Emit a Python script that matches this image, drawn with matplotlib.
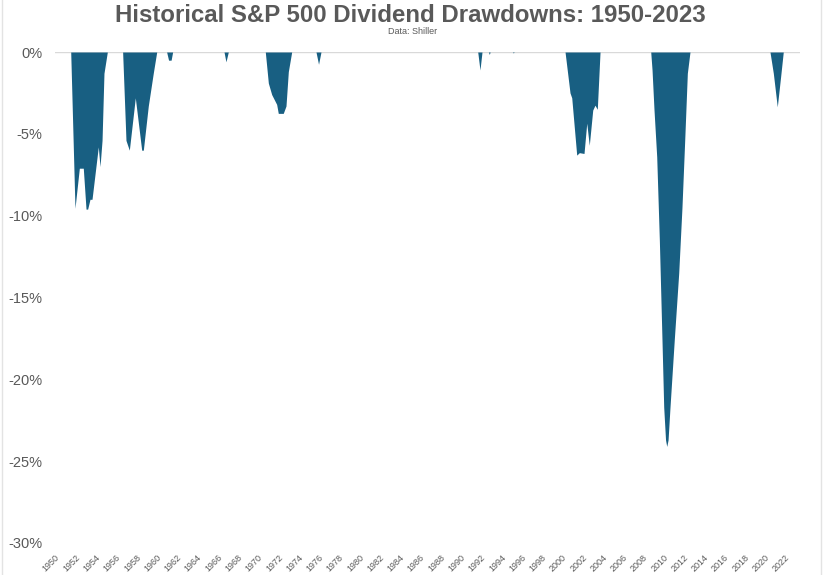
import matplotlib.pyplot as plt
from matplotlib.lines import Line2D
import numpy as np

# Shiller S&P 500 dividend drawdowns (%)
years = [
    1950.00, 1951.55, 1951.97, 1952.40, 1952.79, 1953.06, 1953.22, 1953.45,
    1953.65, 1954.27, 1954.44, 1954.64, 1954.83, 1955.16,
    1956.67, 1957.00, 1957.33, 1957.92, 1958.55, 1958.71, 1959.20, 1959.69, 1960.03,
    1961.01, 1961.20, 1961.45, 1961.60,
    1966.67, 1966.86, 1967.09,
    1970.74, 1971.04, 1971.37, 1971.86, 1972.02, 1972.51, 1972.78, 1973.01, 1973.34,
    1975.74, 1975.99, 1976.23,
    1991.69, 1991.91, 1992.11,
    1992.75, 1992.83, 1992.91,
    1995.12, 1995.20, 1995.28,
    2000.30, 2000.79, 2000.96, 2001.45, 2001.71, 2002.17, 2002.44, 2002.69,
    2003.03, 2003.25, 2003.48, 2003.75,
    2008.75, 2008.88, 2009.07, 2009.34, 2009.60, 2009.86, 2010.03, 2010.21,
    2010.33, 2010.46, 2010.65, 2011.07, 2011.51, 2011.83, 2012.10, 2012.36, 2012.62,
    2020.51, 2020.84, 2021.23, 2021.56, 2021.82,
    2023.45,
]
drawdown = [
    0, 0, -9.55, -7.1, -7.1, -9.6, -9.6, -9.0,
    -9.0, -5.8, -7.0, -5.4, -1.3, 0,
    0, -5.4, -6.0, -2.8, -6.0, -6.0, -3.3, -1.3, 0,
    0, -0.5, -0.5, 0,
    0, -0.6, 0,
    0, -1.9, -2.6, -3.2, -3.75, -3.75, -3.3, -1.2, 0,
    0, -0.75, 0,
    0, -1.1, 0,
    0, -0.15, 0,
    0, -0.06, 0,
    0, -2.5, -2.8, -6.3, -6.15, -6.2, -4.35, -5.7,
    -3.55, -3.25, -3.5, 0,
    0, -1.1, -3.5, -6.4, -11.5, -17.6, -21.7, -23.7,
    -24.1, -23.7, -21.7, -17.6, -13.5, -9.5, -5.4, -1.3, 0,
    0, -1.3, -3.35, -1.5, 0,
    0,
]
tick_years = list(range(1950, 2023, 2))
y_ticks = [0, -5, -10, -15, -20, -25, -30]

title = "Historical S&P 500 Dividend Drawdowns: 1950-2023"
subtitle = "Data: Shiller"

fill_color = "#185f82"
text_color = "#595959"

plt.rcParams['font.family'] = ['Liberation Sans', 'DejaVu Sans']

fig = plt.figure(figsize=(8.25, 5.75), dpi=100)
ax = fig.add_axes([55 / 825, 32 / 575, 745 / 825, 491 / 575])

ax.axhline(0, color="#d9d9d9", lw=1.0, zorder=0)
ax.fill_between(years, drawdown, 0, color=fill_color, lw=0, zorder=2)

ax.set_xlim(1950, 2023.47)
ax.set_ylim(-30, 0)

ax.set_yticks(y_ticks)
ax.set_yticklabels([f"{v}%" for v in y_ticks])
ax.set_xticks(tick_years)
ax.set_xticklabels([str(y) for y in tick_years], rotation=45, ha="right",
                   rotation_mode="anchor")
ax.tick_params(axis="y", length=0, pad=9, labelsize=10.5, labelcolor=text_color)
ax.tick_params(axis="x", length=0, pad=7, labelsize=6.5, labelcolor=text_color)
for s in ax.spines.values():
    s.set_visible(False)

fig.text(0.497, 1 - 15 / 575, title, ha="center", va="center", fontsize=17.3,
         fontweight="bold", color=text_color)
fig.text(0.5, 1 - 31 / 575, subtitle, ha="center", va="center", fontsize=6.5,
         color=text_color)

# light chart-area border
for xf in (2 / 825, 821 / 825):
    fig.add_artist(Line2D([xf, xf], [0, 1], transform=fig.transFigure,
                          color="#e3e3e3", lw=1))

fig.savefig("out.png", dpi=100)
